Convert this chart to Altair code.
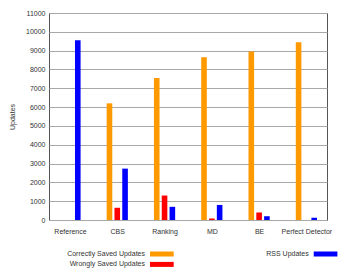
import json
import altair as alt
import pandas as pd

categories = ["Reference", "CBS", "Ranking", "MD", "BE", "Perfect Detector"]
correct_saved = [0, 6200, 7550, 8650, 8950, 9450]
wrongly_saved = [0, 650, 1300, 80, 400, 0]
rss_updates = [9550, 2730, 700, 800, 200, 120]
series = ["Correctly Saved Updates", "Wrongly Saved Updates", "RSS Updates"]
colors = ["#FF9900", "#FF0000", "#0000FF"]
y_ticks = list(range(0, 11001, 1000))
legend_col = [0, 0, 1]
legend_row = [0, 1, 0]

rows = []
for i, cat in enumerate(categories):
    for j, vals in enumerate([correct_saved, wrongly_saved, rss_updates]):
        rows.append({"category": cat, "group": i, "slot": j - 1,
                     "series": series[j], "value": vals[i]})
df = pd.DataFrame(rows)

FONT = "Liberation Sans"
TXT = "#333333"

label_expr = json.dumps(categories) + "[datum.value]"

main = alt.Chart(df).transform_filter(
    alt.datum.value > 0
).transform_calculate(
    pos="datum.group + datum.slot * 0.165"
).mark_bar(size=5.6).encode(
    x=alt.X("pos:Q",
            scale=alt.Scale(domain=[-0.338, 5.33], nice=False, zero=False),
            axis=alt.Axis(values=list(range(len(categories))), labelExpr=label_expr,
                          grid=False, ticks=False, domain=False, labelPadding=7,
                          labelFontSize=7, labelColor=TXT, labelFont=FONT, title=None)),
    y=alt.Y("value:Q",
            scale=alt.Scale(domain=[0, 11000], nice=False),
            axis=alt.Axis(values=y_ticks, format="d", grid=True, gridColor="#a8a8a8",
                          gridWidth=1, ticks=False, domain=False, labelPadding=4,
                          labelFontSize=7, labelColor=TXT, labelFont=FONT, title="Updates",
                          titleFontSize=7, titleFontWeight="normal", titleColor=TXT,
                          titleFont=FONT, titlePadding=10)),
    color=alt.Color("series:N", scale=alt.Scale(domain=series, range=colors), legend=None),
).properties(width=278, height=207,
             view=alt.ViewBackground(stroke="#555555", strokeWidth=1))

leg_df = pd.DataFrame({"series": series, "col": legend_col, "row": legend_row})
lx = alt.X("col:Q", scale=alt.Scale(domain=[0, 1], range=[96, 259.7], nice=False, zero=False), axis=None)
ly = alt.Y("row:Q", scale=alt.Scale(domain=[0, 1], range=[10, 20.4], nice=False, zero=False), axis=None)

leg_text = alt.Chart(leg_df).mark_text(align="right", baseline="middle", fontSize=7,
                                       font=FONT, color=TXT).encode(x=lx, y=ly, text="series:N")
leg_swatch = alt.Chart(leg_df).mark_rule(xOffset=5, x2Offset=28.7, strokeWidth=5).encode(
    x=lx, x2=alt.X2("col:Q"), y=ly,
    color=alt.Color("series:N", scale=alt.Scale(domain=series, range=colors), legend=None))
legend = alt.layer(leg_text, leg_swatch).properties(
    width=278, height=22, view=alt.ViewBackground(stroke="transparent"))

chart = alt.vconcat(main, legend, spacing=8).properties(padding=0)
chart.save("out.html", embed_options={"renderer": "svg", "actions": False})
